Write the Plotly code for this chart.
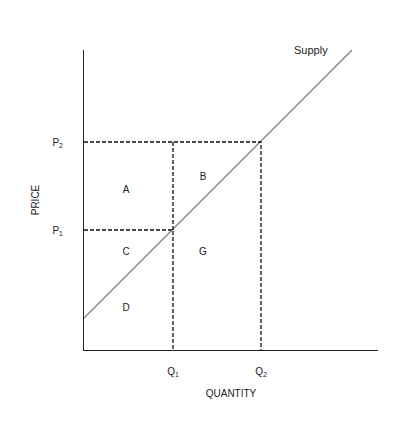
import plotly.graph_objects as go

# supply line endpoints (quantity, price)
supply_q = [0, 268]
supply_p = [32, 300]
prices = [120, 208]
price_labels = ["P<sub>1</sub>", "P<sub>2</sub>"]
quantities = [89, 177]
qty_labels = ["Q<sub>1</sub>", "Q<sub>2</sub>"]
area_labels = ["A", "B", "C", "G", "D"]
area_q = [42, 119, 42, 119, 42]
area_p = [160, 173, 98, 98, 42]

fig = go.Figure()
fig.add_trace(go.Scatter(x=supply_q, y=supply_p, mode="lines",
                         line=dict(color="#777", width=1.2), hoverinfo="skip"))
dash = dict(color="#111", width=1.3, dash="4px,2px")
fig.add_trace(go.Scatter(x=[0, quantities[1], quantities[1]], y=[prices[1], prices[1], 0],
                         mode="lines", line=dash, hoverinfo="skip"))
fig.add_trace(go.Scatter(x=[0, quantities[0], quantities[0], None, quantities[0], quantities[0]],
                         y=[prices[0], prices[0], 0, None, prices[0], prices[1]],
                         mode="lines", line=dash, hoverinfo="skip"))
fig.add_trace(go.Scatter(x=area_q, y=area_p, mode="text", text=area_labels,
                         textfont=dict(size=10, color="#222"), hoverinfo="skip"))
fig.add_annotation(x=227, y=300, text="Supply", showarrow=False,
                   font=dict(size=11, color="#222"))

fig.update_layout(
    width=403, height=418, showlegend=False,
    margin=dict(l=76, r=33, t=42, b=76),
    plot_bgcolor="white", paper_bgcolor="white",
    font=dict(family="Liberation Sans, Arial", size=10, color="#222"),
    xaxis=dict(range=[0, 294], showgrid=False, zeroline=False, showline=True,
               linecolor="#222", linewidth=1, tickmode="array", tickvals=quantities,
               ticktext=qty_labels, ticks="", ticklabelstandoff=12,
               title=dict(text="QUANTITY", standoff=12, font=dict(size=10))),
    yaxis=dict(range=[0, 300], showgrid=False, zeroline=False, showline=True,
               linecolor="#222", linewidth=1, tickmode="array", tickvals=prices,
               ticktext=price_labels, ticks="", ticklabelstandoff=18,
               title=dict(text="PRICE", standoff=10, font=dict(size=10))),
)
fig.write_html("out.html")
